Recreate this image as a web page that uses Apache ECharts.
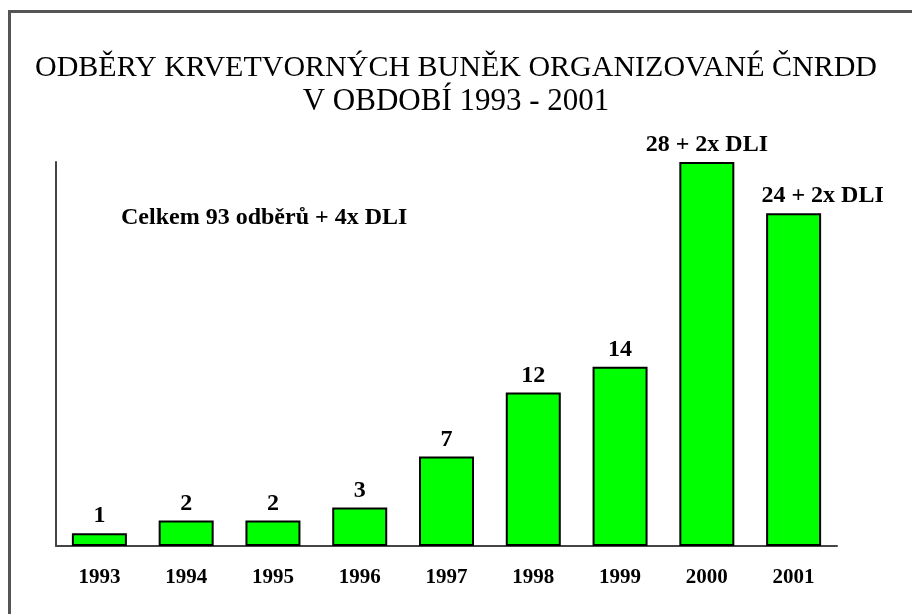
<!DOCTYPE html>
<html>
<head>
<meta charset="utf-8">
<script src="https://cdn.jsdelivr.net/npm/echarts@6/dist/echarts.min.js"></script>
<style>
  html, body { margin: 0; padding: 0; background: #fff; }
  #chart { width: 912px; height: 614px; }
</style>
</head>
<body>
<div id="chart"></div>
<script>
const years = ["1993", "1994", "1995", "1996", "1997", "1998", "1999", "2000", "2001"];
// bar height includes the DLI collections (28 + 2, 24 + 2)
const values = [1, 2, 2, 3, 7, 12, 14, 30, 26];
const valueLabels = ["1", "2", "2", "3", "7", "12", "14", "28 + 2x DLI", "24 + 2x DLI"];

const serif = "'Liberation Serif', 'Times New Roman', serif";

const chart = echarts.init(document.getElementById("chart"));

chart.setOption({
  backgroundColor: "#fff",
  animation: false,
  title: [
    {
      text: "ODBĚRY KRVETVORNÝCH BUNĚK ORGANIZOVANÉ ČNRDD",
      left: "center",
      top: 48,
      textStyle: { fontFamily: serif, fontSize: 30, fontWeight: "normal", color: "#000" }
    },
    {
      text: "V OBDOBÍ 1993 - 2001",
      left: "center",
      top: 81,
      textStyle: { fontFamily: serif, fontSize: 31, fontWeight: "normal", color: "#000" }
    },
    {
      text: "Celkem 93 odběrů + 4x DLI",
      left: 116,
      top: 201,
      textStyle: { fontFamily: serif, fontSize: 24, fontWeight: "bold", color: "#000" }
    }
  ],
  graphic: [
    {
      type: "rect",
      shape: { x: 9.5, y: 11.5, width: 1000, height: 1000 },
      style: { fill: "none", stroke: "#555", lineWidth: 3 },
      silent: true
    }
  ],
  grid: { left: 56, right: 75, top: 162, bottom: 68 },
  xAxis: {
    type: "category",
    data: years,
    axisLine: { lineStyle: { color: "#444", width: 2 } },
    axisTick: { show: false },
    axisLabel: {
      margin: 21,
      fontFamily: serif,
      fontSize: 21,
      fontWeight: "bold",
      color: "#000"
    }
  },
  yAxis: {
    type: "value",
    min: 0,
    max: 30,
    axisLine: { show: true, lineStyle: { color: "#444", width: 2 } },
    axisTick: { show: false },
    axisLabel: { show: false },
    splitLine: { show: false }
  },
  series: [
    {
      type: "bar",
      data: values.map((v, i) => (i === 8 ? { value: v, label: { offset: [29, 0] } } : v)),
      barWidth: 55,
      itemStyle: { color: "#00ff00", borderColor: "#000", borderWidth: 2 },
      label: {
        show: true,
        position: "top",
        distance: 5,
        formatter: (p) => valueLabels[p.dataIndex],
        fontFamily: serif,
        fontSize: 24,
        fontWeight: "bold",
        color: "#000"
      }
    }
  ]
});
</script>
</body>
</html>
